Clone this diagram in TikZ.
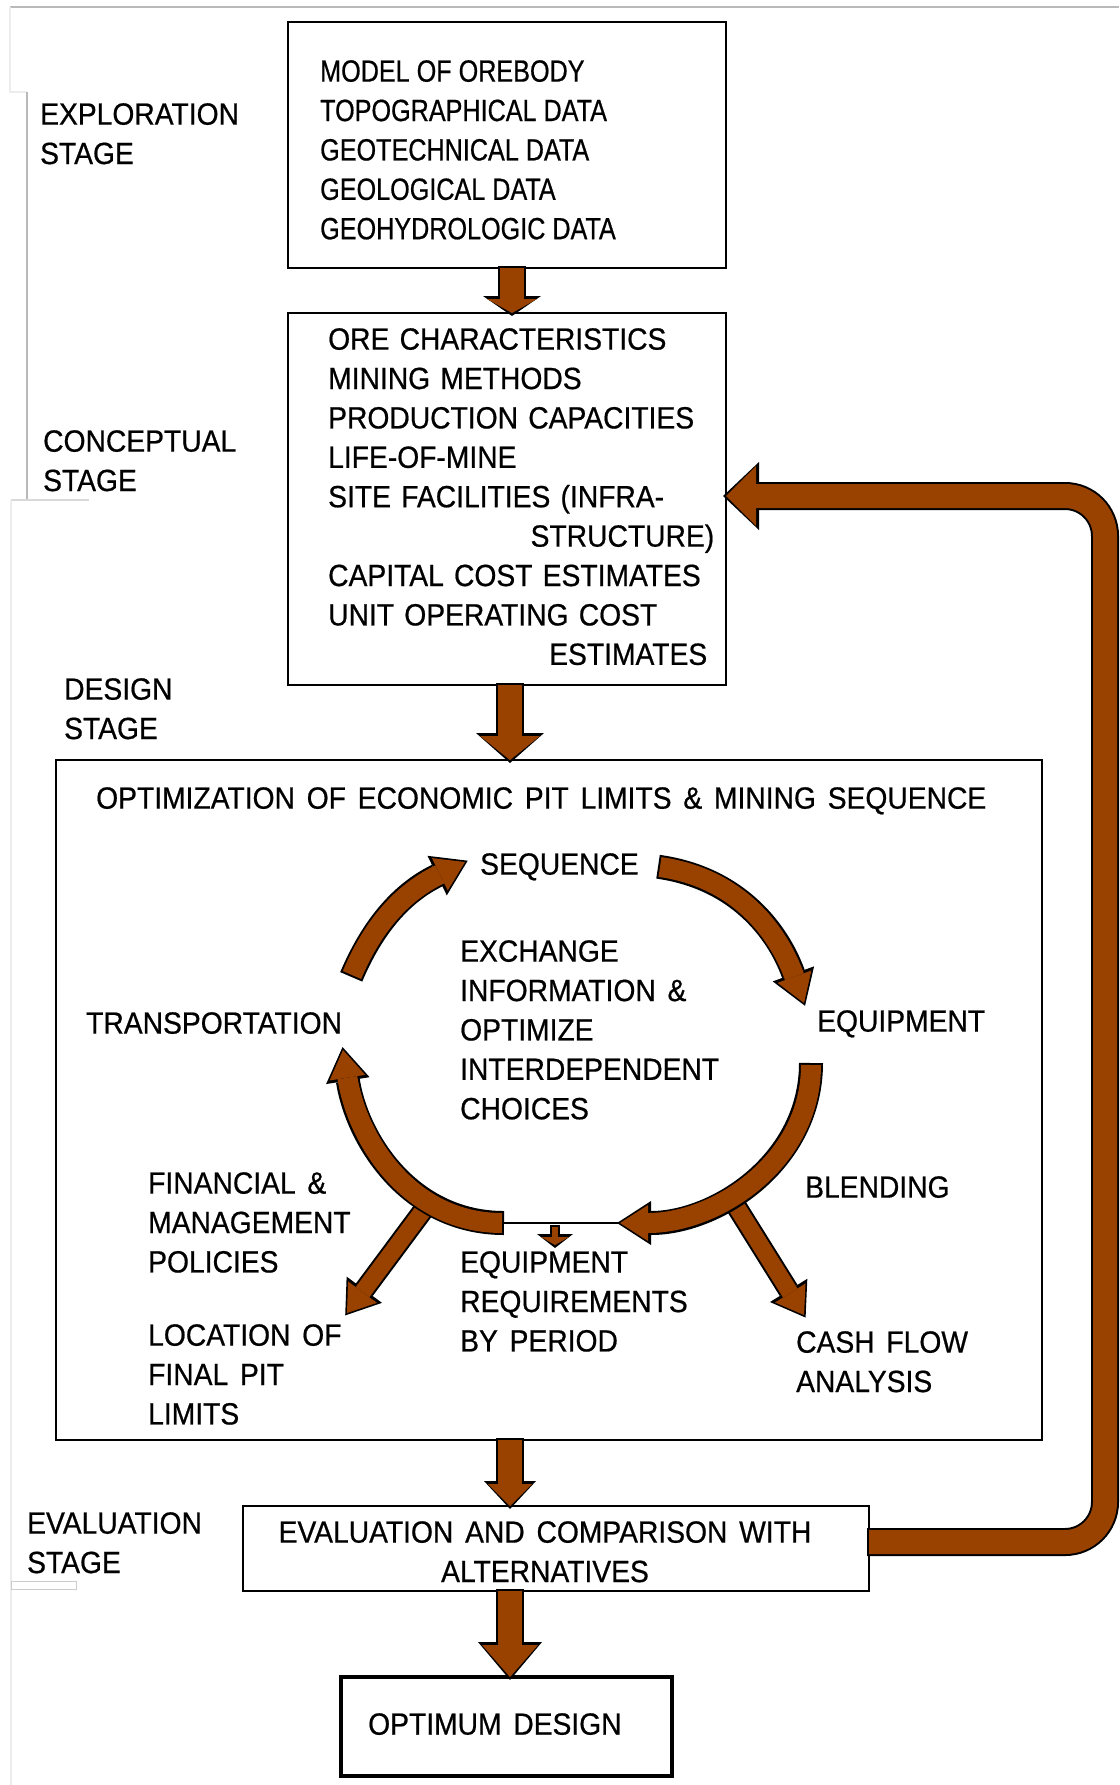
\documentclass[tikz,border=0pt]{standalone}
\usepackage{fontspec}
\setmainfont{Liberation Sans}[FakeStretch=0.92, WordSpace=1.5, FakeBold=0.6]
\newfontfamily\narrowfont{Liberation Sans}[FakeStretch=0.82, FakeBold=0.6]
\usetikzlibrary{arrows.meta,positioning}

\definecolor{oxide}{RGB}{153,66,0}

\tikzset{
  shaft/.store in=\shaftw, head len/.store in=\headl, head wid/.store in=\headw,
  shaft=24pt, head len=24pt, head wid=54pt,
  flow/.style={draw=oxide, line width=\shaftw,
    -{Triangle[length=\headl, width=\headw, line width=0pt]},
    preaction={draw=black, line width=\shaftw+4pt, shorten >=-3pt, shorten <=-2pt,
      -{Triangle[length=\headl+6pt, width=\headw+8pt, line width=0pt]}}},
  ring/.style={shaft=20pt, head len=28pt, head wid=36pt, flow},
  spur/.style={shaft=17pt, head len=26pt, head wid=36pt, flow},
  box/.style={draw, line width=2pt, inner sep=0pt, outer sep=0pt},
  lbl/.style={inner sep=0pt, anchor=north west, align=left, font=\fontsize{30.7}{39.4}\selectfont},
  narrow/.style={font=\fontsize{30.7}{39.4}\narrowfont},
  frame/.style={gray!55, line width=1.2pt},
}

\begin{document}
\begin{tikzpicture}[x=1pt, y=1pt]
\useasboundingbox (0,0) rectangle (1119,-1785);
\fill[white] (0,0) rectangle (1119,-1785);

% faint page rules of the scan
\draw[frame] (10,-7) -- (1119,-7);
\draw[frame, gray!15] (10,-7) -- (10,-92) -- (27,-92);
\draw[frame] (27,-92) -- (27,-499);
\draw[frame, gray!30] (11,-500) -- (89,-500);
\draw[frame, gray!15] (11,-500) -- (11,-1785);
\draw[frame, gray!40, line width=1pt] (11,-1581) rectangle (76,-1589);

% stages
\node[lbl] (exploration) at (40,-103) {EXPLORATION\\STAGE};
\node[lbl] (conceptual) at (43,-430) {CONCEPTUAL\\STAGE};
\node[lbl] (designstage) at (64,-678) {DESIGN\\STAGE};
\node[lbl] (evaluation) at (27,-1512) {EVALUATION\\STAGE};

% boxes
\node[box, line width=2.4pt, minimum width=438pt, minimum height=246pt, anchor=north west] (explore) at (288,-22) {};
\node[box, minimum width=438pt, minimum height=372pt, below=45pt of explore] (concept) {};
\node[box, minimum width=986pt, minimum height=680pt, anchor=north west] (design) at (56,-760) {};
\node[box, minimum width=626pt, minimum height=85pt, anchor=north west] (eval) at (243,-1506) {};
\node[box, line width=3.5pt, minimum width=331pt, minimum height=99pt, anchor=north west] (optimum) at (341,-1677) {};

\node[lbl, narrow, below right=38pt and 32pt of explore.north west] (data)
  {MODEL OF OREBODY\\TOPOGRAPHICAL DATA\\GEOTECHNICAL DATA\\GEOLOGICAL DATA\\GEOHYDROLOGIC DATA};
\node[lbl, text width=390pt, below right=15pt and 40pt of concept.north west] (choices)
  {ORE CHARACTERISTICS\\MINING METHODS\\PRODUCTION CAPACITIES\\LIFE-OF-MINE\\
   SITE FACILITIES (INFRA-\\\hspace*{\fill}STRUCTURE)\hspace*{4pt}\null\\
   CAPITAL COST ESTIMATES\\UNIT OPERATING COST\\\hspace*{\fill}ESTIMATES\hspace*{11pt}\null};
\node[lbl, below right=27pt and 40pt of design.north west] (title)
  {OPTIMIZATION OF ECONOMIC PIT LIMITS \& MINING SEQUENCE};

\node[lbl] (sequence) at (480,-853) {SEQUENCE};
\node[lbl] (equipment) at (817,-1010) {EQUIPMENT};
\node[lbl] (transport) at (86,-1012) {TRANSPORTATION};
\node[lbl] (exchange) at (460,-940) {EXCHANGE\\INFORMATION \&\\OPTIMIZE\\INTERDEPENDENT\\CHOICES};
\node[lbl] (policies) at (148,-1172) {FINANCIAL \&\\MANAGEMENT\\POLICIES};
\node[lbl] (pitlimits) at (148,-1324) {LOCATION OF\\FINAL PIT\\LIMITS};
\node[lbl] (requirements) at (460,-1251) {EQUIPMENT\\REQUIREMENTS\\BY PERIOD};
\node[lbl] (blending) at (805,-1176) {BLENDING};
\node[lbl] (cashflow) at (796,-1331) {CASH FLOW\\ANALYSIS};

\node[lbl, anchor=north, align=center] (evaltext) at (545,-1521)
  {EVALUATION AND COMPARISON WITH\\ALTERNATIVES};
\node[lbl, below right=36pt and 27pt of optimum.north west] (best) {OPTIMUM DESIGN};

% main flow
\coordinate (spine) at (510,0);
\draw[head len=14pt, head wid=50pt, flow] ([xshift=5pt]explore.south) -- ([xshift=5pt]concept.north);
\draw[head len=24pt, head wid=60pt, flow] (concept.south -| spine) -- (design.north -| spine);
\draw[head len=22pt, head wid=44pt, flow] (design.south -| spine) -- (eval.north -| spine);
\draw[head len=32pt, head wid=56pt, flow] (eval.south -| spine) -- (optimum.north -| spine);

% feedback to the conceptual stage
\coordinate (loop) at (1105,-1000);
\draw[head len=30pt, head wid=60pt, flow, rounded corners=40pt]
  ([yshift=6.5pt]eval.east) -| (loop) |- ([yshift=3pt]concept.east);

% outputs of the cycle
\coordinate (spurl) at (425,-1208);
\coordinate (spurlend) at (347,-1313);
\coordinate (spurr) at (736,-1206);
\coordinate (spurrend) at (804,-1315);
\draw[spur] (spurl) -- (spurlend);
\draw[spur] (spurr) -- (spurrend);

% the cycle
\coordinate (sq1) at (660,-867);
\coordinate (eq1) at (804,-1003);
\coordinate (eq2) at (811,-1065);
\coordinate (bt2) at (620,-1223);
\coordinate (bt1) at (502,-1223);
\coordinate (tr1) at (343,-1050);
\coordinate (tr2) at (352,-975);
\coordinate (sq2) at (465,-862);
\draw[ring] (sq1) to[out=-8, in=110] (eq1);
\draw[ring] (eq2) to[out=-90, in=0] (bt2);
\draw[ring] (bt1) to[out=180, in=-81] (tr1);
\draw[ring] (tr2) to[out=67, in=-154] (sq2);

\draw[line width=2pt] (bt1) -- (bt2);
\coordinate (req) at (555,-1227);
\coordinate (reqend) at (555,-1245);
\draw[shaft=6pt, head len=8pt, head wid=28pt, flow] (req) -- (reqend);
\end{tikzpicture}
\end{document}
